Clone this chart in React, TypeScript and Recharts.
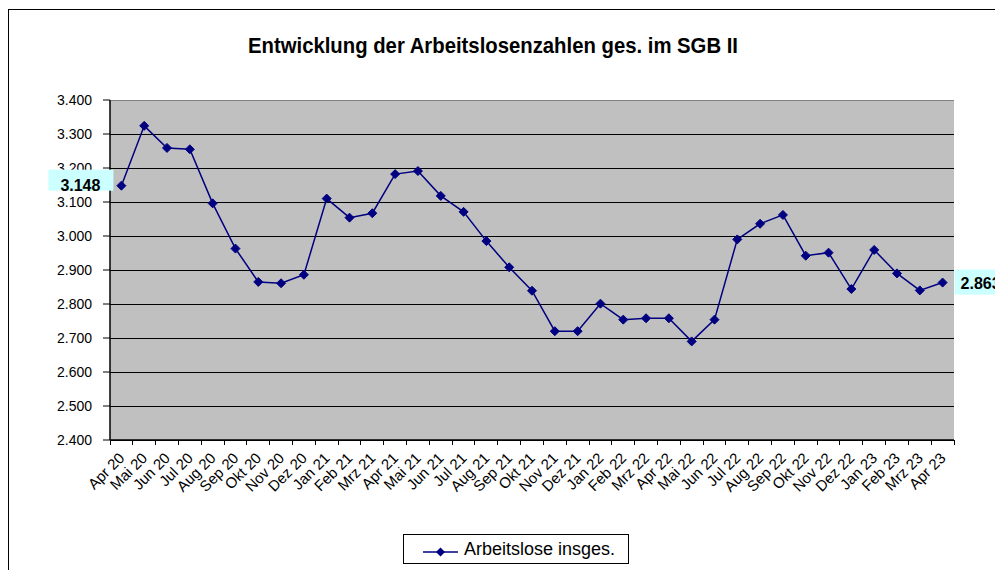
import React from 'react';
import { LineChart, Line, XAxis, YAxis, CartesianGrid, LabelList } from 'recharts';

const title = 'Entwicklung der Arbeitslosenzahlen ges. im SGB II';
const seriesName = 'Arbeitslose insges.';

const months = [
  'Apr 20', 'Mai 20', 'Jun 20', 'Jul 20', 'Aug 20', 'Sep 20', 'Okt 20', 'Nov 20', 'Dez 20',
  'Jan 21', 'Feb 21', 'Mrz 21', 'Apr 21', 'Mai 21', 'Jun 21', 'Jul 21', 'Aug 21', 'Sep 21',
  'Okt 21', 'Nov 21', 'Dez 21', 'Jan 22', 'Feb 22', 'Mrz 22', 'Apr 22', 'Mai 22', 'Jun 22',
  'Jul 22', 'Aug 22', 'Sep 22', 'Okt 22', 'Nov 22', 'Dez 22', 'Jan 23', 'Feb 23', 'Mrz 23', 'Apr 23',
];

const values = [
  3148, 3324, 3259, 3255, 3096, 2963, 2865, 2861, 2886,
  3110, 3054, 3067, 3182, 3191, 3118, 3071, 2985, 2908,
  2839, 2720, 2720, 2801, 2754, 2758, 2758, 2690, 2754,
  2990, 3036, 3062, 2942, 2951, 2844, 2959, 2890, 2840, 2863,
];

const yTicks = [2400, 2500, 2600, 2700, 2800, 2900, 3000, 3100, 3200, 3300, 3400];

const data = months.map((m, i) => ({
  month: m,
  value: values[i],
  firstLabel: i === 0 ? values[i] : undefined,
  lastLabel: i === values.length - 1 ? values[i] : undefined,
}));

const FONT = '"Liberation Sans", Arial, Helvetica, sans-serif';
const NAVY = '#000080';

const fmt = (v: number) => (v / 1000).toFixed(3);

const XTick = (props: any) => {
  const { x, y, payload, index, visibleTicksCount } = props;
  const half = payload && typeof payload.offset === 'number' ? payload.offset : 0;
  const isLast = index === visibleTicksCount - 1;
  const tx = x + 4;
  const ty = y + 19;
  return (
    <g>
      <line x1={x - half} x2={x - half} y1={y} y2={y + 5} stroke="#000" strokeWidth={1} shapeRendering="crispEdges" />
      {isLast && <line x1={x + half} x2={x + half} y1={y} y2={y + 5} stroke="#000" strokeWidth={1} shapeRendering="crispEdges" />}
      <text
        x={tx}
        y={ty}
        transform={`rotate(-45 ${tx} ${ty})`}
        textAnchor="end"
        fontSize={15}
        fontFamily={FONT}
        fill="#000"
      >
        {payload.value}
      </text>
    </g>
  );
};

const Diamond = (props: any) => {
  const { cx, cy } = props;
  if (cx == null || cy == null) return null;
  const r = 4.5;
  return (
    <path
      d={`M${cx},${cy - r}L${cx + r},${cy}L${cx},${cy + r}L${cx - r},${cy}Z`}
      fill={NAVY}
      stroke={NAVY}
      strokeWidth={1}
    />
  );
};

const LeftLabel = (props: any) => {
  const { x, y, value } = props;
  if (value == null || x == null) return null;
  return (
    <g>
      <rect x={x - 73} y={y - 16} width={65} height={21} fill="#ccffff" />
      <text x={x - 41} y={y + 5} textAnchor="middle" fontSize={16} fontWeight="bold" fontFamily={FONT} fill="#000">
        {fmt(value)}
      </text>
    </g>
  );
};

const RightLabel = (props: any) => {
  const { x, y, value } = props;
  if (value == null || x == null) return null;
  return (
    <g>
      <rect x={x + 12} y={y - 13} width={65} height={25} fill="#ccffff" />
      <text x={x + 18} y={y + 6} textAnchor="start" fontSize={16} fontWeight="bold" fontFamily={FONT} fill="#000">
        {fmt(value)}
      </text>
    </g>
  );
};

const GridLine = (props: any) => {
  const { x1, x2, y1, y2, y } = props;
  const isTop = Math.abs(y1 - y) < 0.5;
  return (
    <line
      x1={x1}
      x2={x2}
      y1={y1}
      y2={y2}
      stroke={isTop ? '#808080' : '#000'}
      strokeWidth={1}
      shapeRendering="crispEdges"
    />
  );
};

export default function App() {
  return (
    <div style={{ position: 'fixed', left: 0, top: 0, width: 995, height: 570, overflow: 'hidden', background: '#fff', fontFamily: FONT }}>
      <div style={{ position: 'absolute', left: 8, top: 9, width: 1100, height: 700, border: '1px solid #000' }} />
      <svg style={{ position: 'absolute', left: 0, top: 0 }} width={995} height={80}>
        <text
          x={493}
          y={53}
          textAnchor="middle"
          fontSize={22}
          fontWeight="bold"
          fontFamily={FONT}
          fill="#000"
          textLength={490}
          lengthAdjust="spacingAndGlyphs"
        >
          {title}
        </text>
      </svg>
      <div style={{ position: 'absolute', left: 0, top: 0 }}>
        <LineChart width={995} height={570} data={data} margin={{ top: 100, right: 41, bottom: 70, left: 0 }}>
          <CartesianGrid
            vertical={false}
            horizontal={(p: any) => <GridLine {...p} />}
            fill="#c0c0c0"
            fillOpacity={1}
          />
          <XAxis
            dataKey="month"
            scale="band"
            interval={0}
            height={60}
            tickLine={false}
            tickSize={0}
            tickMargin={0}
            axisLine={{ stroke: '#000', strokeWidth: 1.5 }}
            tick={<XTick />}
          />
          <YAxis
            domain={[2400, 3400]}
            ticks={yTicks}
            interval={0}
            width={110}
            tickSize={7}
            tickMargin={11}
            tickFormatter={fmt}
            tickLine={{ stroke: '#000' }}
            axisLine={{ stroke: '#000', strokeWidth: 1.5 }}
            tick={{ fontSize: 14, fill: '#000', fontFamily: FONT }}
          />
          <YAxis
            yAxisId="right"
            orientation="right"
            width={0}
            tick={false}
            tickLine={false}
            axisLine={{ stroke: '#808080', strokeWidth: 1.2 }}
          />
          <Line
            type="linear"
            dataKey="value"
            stroke={NAVY}
            strokeWidth={1.5}
            dot={<Diamond />}
            activeDot={false}
            isAnimationActive={false}
          >
            <LabelList dataKey="firstLabel" content={<LeftLabel />} />
            <LabelList dataKey="lastLabel" content={<RightLabel />} />
          </Line>
        </LineChart>
      </div>
      <div
        style={{
          position: 'absolute',
          left: 403,
          top: 534,
          width: 224,
          height: 28,
          border: '1px solid #000',
          background: '#fff',
          display: 'flex',
          alignItems: 'center',
        }}
      >
        <svg width={58} height={28} style={{ display: 'block', flex: 'none' }}>
          <line x1={19} x2={54} y1={17} y2={17} stroke={NAVY} strokeWidth={1.5} />
          <path d="M36.5,12.5L41,17L36.5,21.5L32,17Z" fill={NAVY} />
        </svg>
        <span style={{ fontSize: 18, lineHeight: '20px', color: '#000', whiteSpace: 'nowrap', marginLeft: 2 }}>{seriesName}</span>
      </div>
    </div>
  );
}
